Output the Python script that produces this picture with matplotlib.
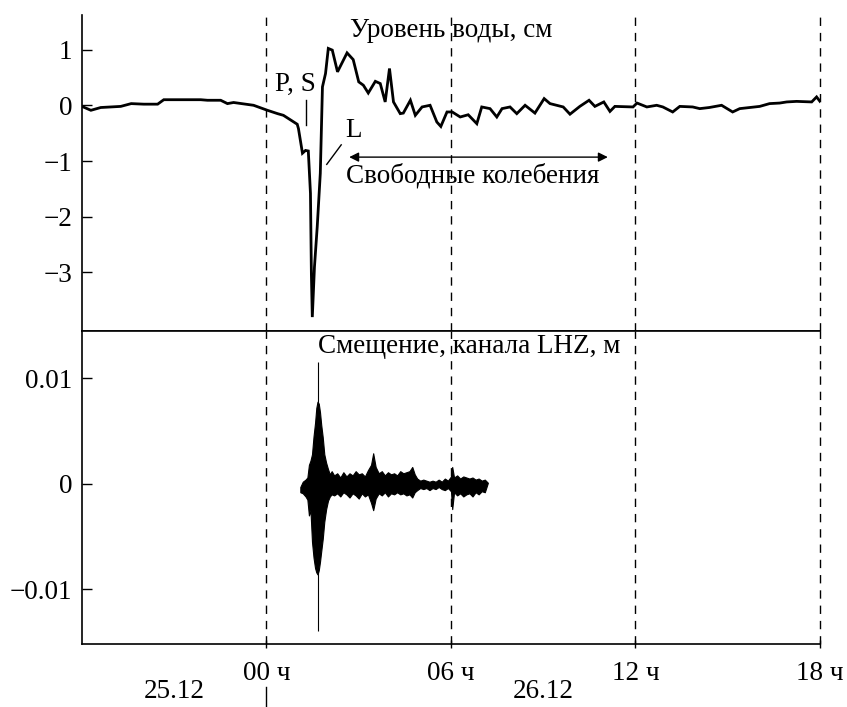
import matplotlib
matplotlib.use("Agg")
import matplotlib.pyplot as plt
import numpy as np

plt.rcParams["font.family"] = ["Liberation Serif", "DejaVu Serif"]

# water level, cm (hours from 00 h 26.12)
t_level = [-6.0, -5.71, -5.39, -4.74, -4.4, -3.99, -3.54, -3.34, -2.14, -1.92,
           -1.49, -1.27, -1.07, -0.42, 0.03, 0.36, 0.55, 1.0, 1.04, 1.17,
           1.27, 1.36, 1.43, 1.46, 1.49, 1.56, 1.65, 1.75, 1.82, 1.92,
           2.01, 2.14, 2.31, 2.62, 2.82, 3.0, 3.15, 3.31, 3.54, 3.7,
           3.86, 4.0, 4.13, 4.35, 4.45, 4.68, 4.84, 5.06, 5.32, 5.54,
           5.67, 5.87, 6.04, 6.3, 6.56, 6.84, 7.0, 7.27, 7.49, 7.66,
           7.92, 8.14, 8.41, 8.73, 9.03, 9.22, 9.65, 9.87, 10.19, 10.49,
           10.68, 10.97, 11.17, 11.33, 11.92, 12.05, 12.37, 12.69, 12.89, 13.21,
           13.44, 13.86, 14.09, 14.4, 14.8, 15.16, 15.39, 16.04, 16.36, 16.69,
           16.92, 17.24, 17.73, 17.89, 18.0]
level = [-0.02, -0.09, -0.04, -0.02, 0.03, 0.02, 0.02, 0.1, 0.1, 0.09,
         0.09, 0.03, 0.05, 0.0, -0.09, -0.15, -0.18, -0.34, -0.42, -0.86,
         -0.81, -0.82, -1.58, -3.02, -3.8, -2.9, -2.18, -1.22, 0.33, 0.57,
         1.02, 0.99, 0.6, 0.94, 0.82, 0.42, 0.36, 0.22, 0.43, 0.39,
         0.06, 0.66, 0.06, -0.15, -0.14, 0.09, -0.18, -0.03, 0.0, -0.3,
         -0.38, -0.12, -0.12, -0.21, -0.17, -0.33, -0.03, -0.06, -0.21, -0.06,
         -0.03, -0.15, 0.0, -0.14, 0.12, 0.03, -0.03, -0.16, -0.02, 0.09,
         -0.02, 0.06, -0.11, -0.02, -0.03, 0.04, -0.03, 0.0, -0.03, -0.12,
         -0.02, -0.03, -0.06, -0.04, 0.0, -0.12, -0.06, -0.02, 0.03, 0.04,
         0.06, 0.07, 0.06, 0.15, 0.07]

# LHZ displacement envelope, 1e-3 m
t_seis = [1.10, 1.18, 1.27, 1.33, 1.38, 1.43, 1.48, 1.53, 1.58, 1.62,
          1.66, 1.70, 1.74, 1.78, 1.83, 1.88, 1.94, 2.00, 2.06, 2.12,
          2.2, 2.3, 2.4, 2.5, 2.6, 2.7, 2.8, 2.9, 3.0, 3.1,
          3.2, 3.3, 3.4, 3.47, 3.55, 3.65, 3.75, 3.85, 3.95, 4.05,
          4.15, 4.25, 4.35, 4.45, 4.55, 4.65, 4.74, 4.82, 4.9, 5.0,
          5.1, 5.2, 5.3, 5.4, 5.5, 5.6, 5.7, 5.8, 5.9, 6.0,
          6.04, 6.1, 6.2, 6.3, 6.4, 6.5, 6.6, 6.7, 6.8, 6.9,
          7.0, 7.1, 7.2]
seis_upper = [-0.3, 0.2, 0.4, 0.6, 1.8, 2.2, 2.8, 4.5, 5.8, 7.2,
              7.8, 7.6, 6.8, 5.6, 4.4, 2.8, 2.0, 1.4, 0.9, 1.2,
              0.8, 1.0, 0.6, 1.1, 0.7, 1.0, 0.8, 1.2, 0.9, 1.0,
              0.7, 1.3, 1.8, 2.9, 1.6, 1.0, 1.2, 0.8, 1.1, 0.9,
              1.0, 0.8, 1.2, 1.0, 1.1, 1.2, 1.6, 0.9, 0.5, 0.3,
              0.4, 0.3, 0.2, 0.3, 0.2, 0.4, 0.2, 0.5, 0.3, 0.7,
              1.6, 0.6, 0.8, 0.5, 0.7, 0.6, 0.5, 0.6, 0.4, 0.5,
              0.3, 0.4, 0.1]
seis_lower = [-0.8, -0.9, -1.2, -1.5, -3.0, -2.5, -5.5, -7.0, -8.0, -8.4,
              -8.6, -8.2, -7.4, -6.4, -5.2, -3.6, -2.4, -1.6, -1.2, -1.0,
              -1.1, -0.9, -1.2, -0.8, -1.0, -1.3, -0.9, -1.1, -1.4, -0.9,
              -1.2, -1.0, -1.8, -2.5, -1.4, -0.9, -1.1, -0.8, -1.2, -0.9,
              -1.0, -0.8, -1.0, -0.9, -1.1, -1.0, -1.3, -0.8, -0.6, -0.4,
              -0.5, -0.4, -0.6, -0.4, -0.5, -0.3, -0.5, -0.6, -0.4, -0.7,
              -2.4, -0.8, -1.1, -0.9, -1.2, -1.0, -0.9, -1.2, -0.8, -1.0,
              -0.7, -0.8, 0.1]
spike_t = 1.66
spike_lo, spike_hi = -14.0, 11.6

hour_ticks = [0, 6, 12, 18]
hour_labels = ["00 ч", "06 ч", "12 ч", "18 ч"]
day_labels = ["25.12", "26.12"]
day_pos = [-3.0, 9.0]

fs = 19.5
fig = plt.figure(figsize=(8.47, 7.07), dpi=100)
ax1 = fig.add_axes([0.0968, 0.5318, 0.8713, 0.4470])
ax2 = fig.add_axes([0.0968, 0.0891, 0.8713, 0.4427])

dash = (0, (6, 5))
for ax in (ax1, ax2):
    ax.set_xlim(-6, 18)
    for h in hour_ticks:
        ax.axvline(h, color="black", lw=1.0, linestyle=dash, clip_on=False)
    ax.spines["right"].set_visible(False)
    for s in ax.spines.values():
        s.set_linewidth(1.2)
    ax.tick_params(axis="y", direction="in", length=7, width=1.0,
                   labelsize=fs, pad=7)

# top panel
ax1.plot(t_level, level, color="black", lw=2.0, solid_joinstyle="miter")
ax1.set_ylim(-4.05, 1.62)
ax1.spines["top"].set_visible(False)
ax1.set_yticks([1, 0, -1, -2, -3])
ax1.set_yticklabels(["1", "0", "\u22121", "\u22122", "\u22123"])
ax1.set_xticks([])
ax1.text(2.73, 1.35, "Уровень воды, см", fontsize=fs, ha="left", va="center")
ax1.text(0.95, 0.38, "P, S", fontsize=fs, ha="center", va="center")
ax1.plot([1.29, 1.29], [0.1, -0.36], color="black", lw=1.0)
ax1.text(2.83, -0.45, "L", fontsize=fs, ha="center", va="center")
ax1.plot([1.96, 2.43], [-1.06, -0.71], color="black", lw=1.0)
ax1.annotate("", xy=(2.69, -0.93), xytext=(11.1, -0.93),
             arrowprops=dict(arrowstyle="<|-|>", color="black", lw=1.0,
                             mutation_scale=14, shrinkA=0, shrinkB=0))
ax1.text(2.6, -1.27, "Свободные колебения", fontsize=fs, ha="left", va="center")

# bottom panel
ts = np.array(t_seis)
up = np.array(seis_upper) * 1e-3
lo = np.array(seis_lower) * 1e-3
ax2.fill_between(ts, lo, up, color="black", lw=0.8)
ax2.vlines(spike_t, spike_lo * 1e-3, spike_hi * 1e-3, color="black", lw=0.8)
ax2.set_ylim(-0.0152, 0.0145)
ax2.set_yticks([0.01, 0, -0.01])
ax2.set_yticklabels(["0.01", "0", "\u22120.01"])
ax2.set_xticks(hour_ticks)
ax2.set_xticklabels(hour_labels)
ax2.tick_params(axis="x", direction="inout", length=6, width=1.0,
                labelsize=fs, pad=9)
ax2.text(1.69, 0.013, "Смещение, канала LHZ, м", fontsize=fs,
         ha="left", va="center")

trans = ax2.get_xaxis_transform()
for pos, lab in zip(day_pos, day_labels):
    ax2.text(pos, -0.153, lab, fontsize=fs, ha="center", va="center",
             transform=trans)
ax2.plot([0, 0], [-0.137, -0.201], color="black", lw=1.0,
         transform=trans, clip_on=False)

fig.savefig("out.png", dpi=100)
